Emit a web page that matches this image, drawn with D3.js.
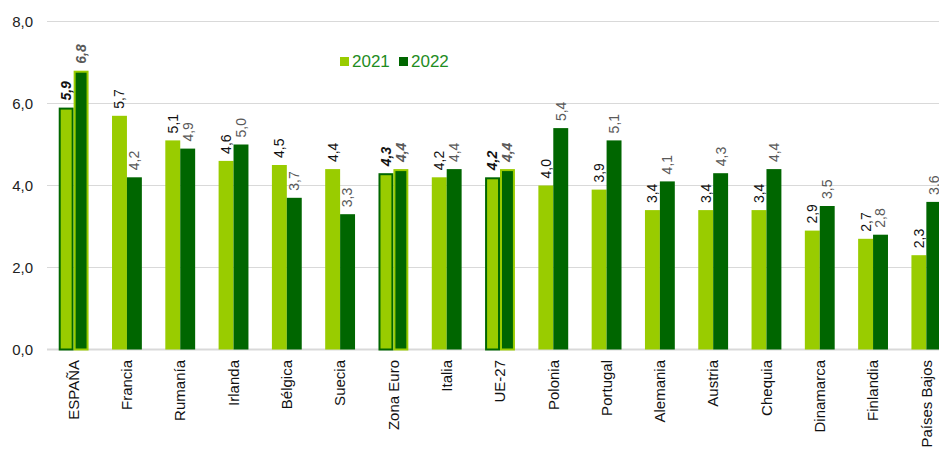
<!DOCTYPE html>
<html lang="es">
<head>
<meta charset="utf-8">
<title>2021 - 2022</title>
<style>
  body { margin: 0; background: #fff; }
  svg { display: block; font-family: "Liberation Sans", Arial, sans-serif; }
</style>
<script src="https://d3js.org/d3.v7.min.js"></script>
</head>
<body>
<svg id="chart" width="939" height="450"></svg>
<script>
// data
var paises = ["ESPAÑA", "Francia", "Rumanía", "Irlanda", "Bélgica", "Suecia", "Zona Euro", "Italia",
              "UE-27", "Polonia", "Portugal", "Alemania", "Austria", "Chequia", "Dinamarca", "Finlandia", "Países Bajos"];
var v2021 = [5.9, 5.7, 5.1, 4.6, 4.5, 4.4, 4.3, 4.2, 4.2, 4.0, 3.9, 3.4, 3.4, 3.4, 2.9, 2.7, 2.3];
var v2022 = [6.8, 4.2, 4.9, 5.0, 3.7, 3.3, 4.4, 4.4, 4.4, 5.4, 5.1, 4.1, 4.3, 4.4, 3.5, 2.8, 3.6];
var destacados = ["ESPAÑA", "Zona Euro", "UE-27"];
var series = ["2021", "2022"];
var yTicks = [0, 2, 4, 6, 8];

var claro = "#99cc00", oscuro = "#006600";

var svg = d3.select("#chart");
var pLeft = 47, pRight = 953, pTop = 21.5, pBottom = 349.5;

var x = d3.scaleBand().domain(paises).range([pLeft, pRight]).paddingInner(0.44).paddingOuter(0.22);
var xs = d3.scaleBand().domain(series).range([0, x.bandwidth()]);
var y = d3.scaleLinear().domain([0, 8]).range([pBottom, pTop]);
var fmt = function(v) { return d3.format(".1f")(v).replace(".", ","); };

// grid
svg.append("g").selectAll("line").data(yTicks).join("line")
  .attr("x1", pLeft).attr("x2", 939)
  .attr("y1", d => y(d)).attr("y2", d => y(d))
  .attr("stroke", "#d9d9d9")
  .attr("stroke-width", d => d === 0 ? 2 : 1);

// y axis labels
svg.append("g").selectAll("text").data(yTicks).join("text")
  .attr("x", 33).attr("y", d => y(d))
  .attr("dy", "0.35em")
  .attr("text-anchor", "end")
  .attr("font-size", 15)
  .attr("fill", "#222")
  .text(fmt);

var filas = paises.map(function(p, i) {
  return { pais: p, vals: [{ s: "2021", v: v2021[i] }, { s: "2022", v: v2022[i] }], hi: destacados.indexOf(p) >= 0 };
});

var grp = svg.append("g").selectAll("g").data(filas).join("g")
  .attr("transform", d => "translate(" + x(d.pais) + ",0)");

grp.selectAll("rect").data(d => d.vals.map(o => Object.assign({ hi: d.hi }, o))).join("rect")
  .attr("x", d => xs(d.s) + (d.hi ? 1 : 0))
  .attr("width", d => xs.bandwidth() - (d.hi ? 2 : 0))
  .attr("y", d => y(d.v) + (d.hi ? 1 : 0))
  .attr("height", d => pBottom - y(d.v) - (d.hi ? 1 : 0))
  .attr("fill", d => d.s === "2021" ? claro : oscuro)
  .attr("stroke", d => d.hi ? (d.s === "2021" ? oscuro : claro) : "none")
  .attr("stroke-width", 2);

// value labels
grp.selectAll("text").data(d => d.vals.map(o => Object.assign({ hi: d.hi }, o))).join("text")
  .attr("transform", d => "translate(" + (xs(d.s) + xs.bandwidth() / 2) + "," + (y(d.v) - 7) + ") rotate(-90)")
  .attr("dy", "0.35em")
  .attr("font-size", 14)
  .attr("font-weight", d => d.hi ? "bold" : "normal")
  .attr("font-style", d => d.hi ? "italic" : "normal")
  .attr("fill", d => d.s === "2021" ? "#111" : "#595959")
  .text(d => fmt(d.v));

// category labels
svg.append("g").selectAll("text").data(paises).join("text")
  .attr("transform", d => "translate(" + (x(d) + x.bandwidth() / 2) + ",360) rotate(-90)")
  .attr("dy", "0.35em")
  .attr("text-anchor", "end")
  .attr("font-size", 15)
  .attr("fill", "#111")
  .text(d => d);

// legend
var leg = svg.append("g").selectAll("g").data(series).join("g")
  .attr("transform", (d, i) => "translate(" + (340 + i * 59) + ",57)");
leg.append("rect").attr("width", 9).attr("height", 9)
  .attr("fill", d => d === "2021" ? claro : oscuro);
leg.append("text").attr("x", 12).attr("y", 4.5).attr("dy", "0.35em")
  .attr("font-size", 17).attr("fill", "#1e8c1e")
  .text(d => d);
</script>
</body>
</html>
